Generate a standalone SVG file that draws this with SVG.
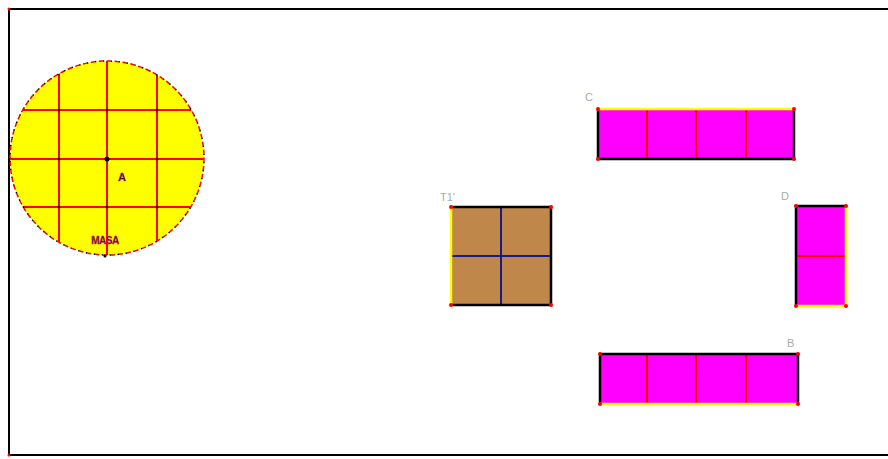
<svg xmlns="http://www.w3.org/2000/svg" width="888" height="459" viewBox="0 0 888 459">
<style>
.frame{fill:none;stroke:#000;stroke-width:2}
.grid{stroke:#ff0000;stroke-width:2}
.blue{stroke:#1a1a8c;stroke-width:2}
.mag{fill:#ff00ff}
.blk{stroke:#000;stroke-width:2.5;fill:none}
.yel{stroke:#ffff00;stroke-width:2.5;fill:none}
.lbl{font-family:"Liberation Sans",Arial,sans-serif;font-size:11px;fill:#aaaaaa}
.pt{fill:#ff0000}
.dot{fill:#000}
</style>
<defs>
<clipPath id="cc"><circle cx="107" cy="158" r="97"/></clipPath>
</defs>
<g id="frame">
<polyline class="frame" points="888,9 9,9 9,455 888,455"/>
<circle class="pt" cx="9" cy="9" r="1.5"/>
<circle class="pt" cx="9" cy="455" r="1.5"/>
</g>
<g id="circleA">
<circle cx="107" cy="158" r="97" fill="#ffff00"/>
<g clip-path="url(#cc)">
<line class="grid" x1="59" y1="40" x2="59" y2="280"/>
<line class="grid" x1="107" y1="40" x2="107" y2="280"/>
<line class="grid" x1="157" y1="40" x2="157" y2="280"/>
<line class="grid" x1="0" y1="110" x2="220" y2="110"/>
<line class="grid" x1="0" y1="159" x2="220" y2="159"/>
<line class="grid" x1="0" y1="207" x2="220" y2="207"/>
</g>
<circle cx="107" cy="158" r="97" fill="none" stroke="#ff0000" stroke-width="1.5" stroke-dasharray="4 4"/>
<circle cx="107" cy="158" r="97" fill="none" stroke="#000" stroke-width="1.5" stroke-dasharray="1.5 6.5" stroke-dashoffset="4"/>
<g class="dot">
<circle cx="59" cy="110" r="1.2"/><circle cx="107" cy="110" r="1.2"/><circle cx="157" cy="110" r="1.2"/>
<circle cx="59" cy="159" r="1.2"/><circle cx="157" cy="159" r="1.2"/>
<circle cx="59" cy="207" r="1.2"/><circle cx="107" cy="207" r="1.2"/><circle cx="157" cy="207" r="1.2"/>
<circle cx="107" cy="159" r="2.5"/>
<circle cx="105" cy="256" r="1.5"/>
</g>
<text x="118" y="181" font-family="'Liberation Sans',Arial,sans-serif" font-size="11" font-weight="bold" fill="#1a1a8c" stroke="#ff0000" stroke-width="0.3">A</text>
<text x="105" y="244" text-anchor="middle" font-family="'Liberation Sans',Arial,sans-serif" font-size="10" font-weight="bold" fill="#1a1a8c" stroke="#ff0000" stroke-width="0.4" letter-spacing="-0.5">MASA</text>
</g>
<g id="squareT1">
<rect x="451" y="207" width="100" height="98" fill="#c0874a"/>
<line class="blue" x1="501" y1="207" x2="501" y2="305"/>
<line class="blue" x1="451" y1="256" x2="551" y2="256"/>
<polyline class="blk" points="451,207 551,207 551,305 451,305"/>
<line class="yel" x1="451" y1="208" x2="451" y2="304"/>
<circle class="pt" cx="451" cy="207" r="2"/><circle class="pt" cx="551" cy="207" r="2"/>
<circle class="pt" cx="451" cy="305" r="2"/><circle class="pt" cx="551" cy="305" r="2"/>
<text class="lbl" x="440" y="201">T1'</text>
</g>
<g id="rectC">
<rect class="mag" x="598" y="109" width="196" height="50"/>
<line class="grid" x1="647" y1="109" x2="647" y2="159"/>
<line class="grid" x1="696" y1="109" x2="696" y2="159"/>
<line class="grid" x1="746" y1="109" x2="746" y2="159"/>
<polyline class="blk" points="598,109 598,159 794,159 794,109"/>
<line class="yel" x1="599" y1="109" x2="793" y2="109"/>
<circle class="pt" cx="598" cy="109" r="2"/><circle class="pt" cx="794" cy="109" r="2"/>
<circle class="pt" cx="598" cy="159" r="2"/><circle class="pt" cx="794" cy="159" r="2"/>
<text class="lbl" x="585" y="101">C</text>
</g>
<g id="rectD">
<rect class="mag" x="796" y="206" width="50" height="100"/>
<line class="grid" x1="796" y1="256" x2="846" y2="256"/>
<polyline class="blk" points="796,306 796,206 846,206"/>
<polyline class="yel" points="846,207 846,306 797,306"/>
<circle class="pt" cx="796" cy="206" r="2"/><circle class="pt" cx="846" cy="206" r="2"/>
<circle class="pt" cx="796" cy="306" r="2"/><circle class="pt" cx="846" cy="306" r="2"/>
<text class="lbl" x="781" y="200">D</text>
</g>
<g id="rectB">
<rect class="mag" x="600" y="354" width="198" height="50"/>
<line class="grid" x1="647" y1="354" x2="647" y2="404"/>
<line class="grid" x1="696" y1="354" x2="696" y2="404"/>
<line class="grid" x1="746" y1="354" x2="746" y2="404"/>
<polyline class="blk" points="600,404 600,354 798,354 798,404"/>
<line class="yel" x1="601" y1="404" x2="797" y2="404"/>
<circle class="pt" cx="600" cy="354" r="2"/><circle class="pt" cx="798" cy="354" r="2"/>
<circle class="pt" cx="600" cy="404" r="2"/><circle class="pt" cx="798" cy="404" r="2"/>
<text class="lbl" x="787" y="347">B</text>
</g>
<g id="connectors"/>
</svg>
